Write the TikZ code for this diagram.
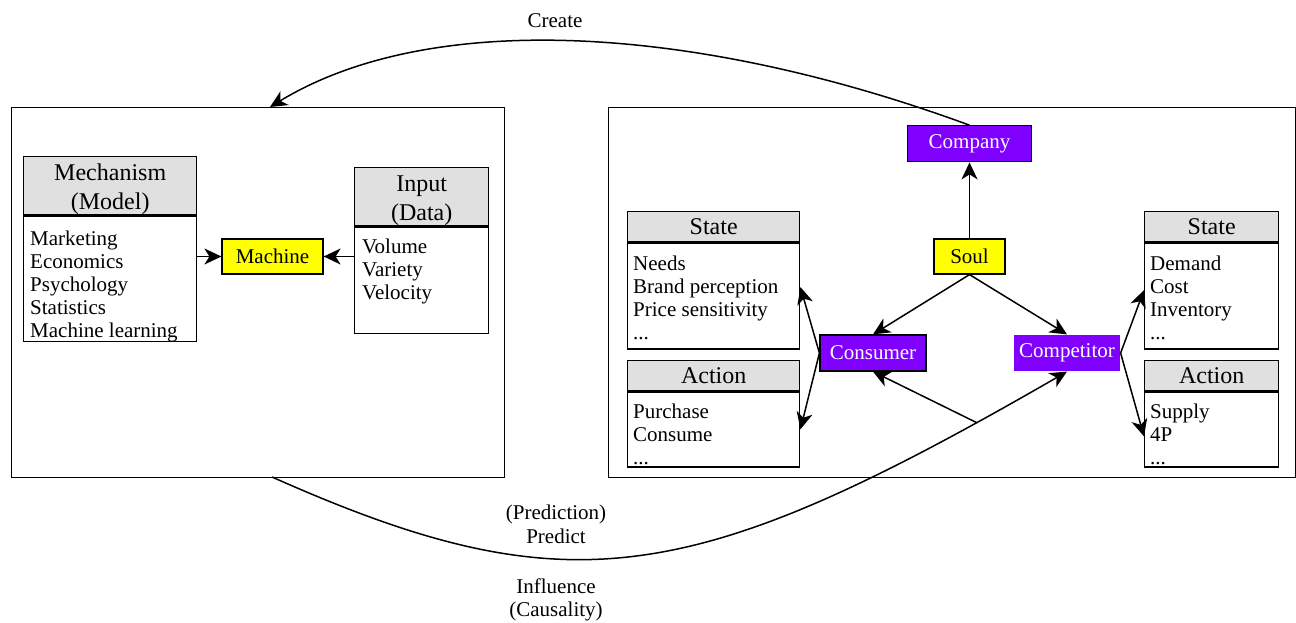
\documentclass[tikz,border=0pt]{standalone}
\usepackage{fontspec}
\setmainfont{Liberation Serif}
\usetikzlibrary{positioning, arrows.meta}

\definecolor{headgray}{HTML}{E0E0E0}
\definecolor{soulyellow}{HTML}{FFFF00}
\definecolor{agentpurple}{HTML}{7F00FF}

\tikzset{
  panelbox/.style={draw, line width=1.4pt, anchor=north west, inner sep=0pt},
  headbox/.style={draw, fill=headgray, line width=1.4pt, anchor=north west, inner sep=0pt,
    align=center, font=\fontsize{24}{29}\selectfont},
  bodybox/.style={draw, line width=1.4pt, anchor=north, inner sep=0pt},
  itemlist/.style={anchor=north west, inner sep=0pt, align=left, font=\fontsize{21}{23}\selectfont},
  corebox/.style={draw, fill=soulyellow, line width=1.2pt, minimum height=35pt, inner sep=0pt,
    font=\fontsize{21}{23}\selectfont},
  agentbox/.style={draw, fill=agentpurple, text=white, line width=1.2pt, minimum height=36pt,
    minimum width=106pt, inner sep=0pt, font=\fontsize{21}{23}\selectfont},
  linkarrow/.style={-{Stealth[length=17pt,width=16pt,inset=5pt]}, line width=1.5pt},
  note/.style={align=center, font=\fontsize{21}{23.5}\selectfont}
}

\begin{document}
\begin{tikzpicture}[x=1pt, y=-1pt]
  \useasboundingbox (0,0) rectangle (1296,623);

  % panels
  \node[panelbox, minimum width=493pt, minimum height=370pt] (leftPanel) at (11,107) {};
  \node[panelbox, minimum width=687pt, minimum height=370pt] (rightPanel) at (608,107) {};

  % machine side
  \node[headbox, minimum width=173pt, minimum height=58pt] (mechHead) at (23,156)
    {\rule{0pt}{24pt}Mechanism\\(Model)};
  \node[bodybox, minimum width=173pt, minimum height=125pt] (mechBody) at (mechHead.south) {};
  \node[itemlist] (mechItems) at ([xshift=7pt,yshift=-15pt]mechBody.north west)
    {Marketing\\Economics\\Psychology\\Statistics\\Machine learning};

  \node[headbox, minimum width=134pt, minimum height=56pt] (inHead) at (354,167)
    {\rule{0pt}{24pt}Input\\(Data)};
  \node[bodybox, minimum width=134pt, minimum height=106pt] (inBody) at (inHead.south) {};
  \node[itemlist] (inItems) at ([xshift=8pt,yshift=-12pt]inBody.north west)
    {Volume\\Variety\\Velocity};

  \node[corebox, minimum width=101pt] (machine) at (272.5,256.5) {Machine};

  % soul side
  \node[corebox, minimum width=71pt] (soul) at (969.5,256.5) {Soul};
  \node[agentbox, minimum width=124pt, above=76pt of soul] (company) {Company};
  \node[agentbox] (consumer) at (873,353) {Consumer};
  \node[agentbox, draw=none] (competitor) at (1067,353) {Competitor};

  \node[headbox, minimum width=172pt, minimum height=30pt] (stHeadL) at (627,211) {State};
  \node[bodybox, minimum width=172pt, minimum height=106pt] (stBodyL) at (stHeadL.south) {};
  \node[itemlist] (stItemsL) at ([xshift=6pt,yshift=-13pt]stBodyL.north west)
    {Needs\\Brand perception\\Price sensitivity\\...};
  \node[headbox, minimum width=172pt, minimum height=30pt, below=10pt of stBodyL] (actHeadL) {Action};
  \node[bodybox, minimum width=172pt, minimum height=75pt] (actBodyL) at (actHeadL.south) {};
  \node[itemlist] (actItemsL) at ([xshift=6pt,yshift=-13pt]actBodyL.north west)
    {Purchase\\Consume\\...};

  \node[headbox, minimum width=134pt, minimum height=30pt] (stHeadR) at (1144,211) {State};
  \node[bodybox, minimum width=134pt, minimum height=106pt] (stBodyR) at (stHeadR.south) {};
  \node[itemlist] (stItemsR) at ([xshift=6pt,yshift=-13pt]stBodyR.north west)
    {Demand\\Cost\\Inventory\\...};
  \node[headbox, minimum width=134pt, minimum height=30pt, below=10pt of stBodyR] (actHeadR) {Action};
  \node[bodybox, minimum width=134pt, minimum height=75pt] (actBodyR) at (actHeadR.south) {};
  \node[itemlist] (actItemsR) at ([xshift=6pt,yshift=-13pt]actBodyR.north west)
    {Supply\\4P\\...};

  % arrows
  \draw[linkarrow] (machine.west -| mechBody.east) -- (machine.west);
  \draw[linkarrow] (inBody.west |- machine.east) -- (machine.east);
  \draw[linkarrow] (soul) -- (company);
  \draw[linkarrow] (soul.south) -- (consumer.north);
  \draw[linkarrow] (soul.south) -- (competitor.north);
  \draw[linkarrow] (consumer.west) -- ([yshift=9pt]stBodyL.east);
  \draw[linkarrow] (consumer.west) -- (actBodyL.east);
  \draw[linkarrow] (competitor.east) -- ([yshift=6pt]stBodyR.west);
  \draw[linkarrow] (competitor.east) -- ([yshift=-7pt]actBodyR.west);

  % create / predict curves
  \coordinate (createEnd) at (270,107);
  \coordinate (predStart) at (272,477);
  \draw[linkarrow] (company.north) .. controls (700,26) and (433,8) .. (createEnd);
  \draw[linkarrow] (predStart) .. controls (569,609) and (692,588) .. coordinate[pos=0.915] (fork) (competitor.south);
  \draw[linkarrow] (fork) -- (consumer.south);

  \node[note] (createLbl) at (555,21) {Create};
  \node[note] (predictLbl) at (556,524.5) {(Prediction)\\Predict};
  \node[note] (influenceLbl) at (556,600) {Influence\\(Causality)};
\end{tikzpicture}
\end{document}
